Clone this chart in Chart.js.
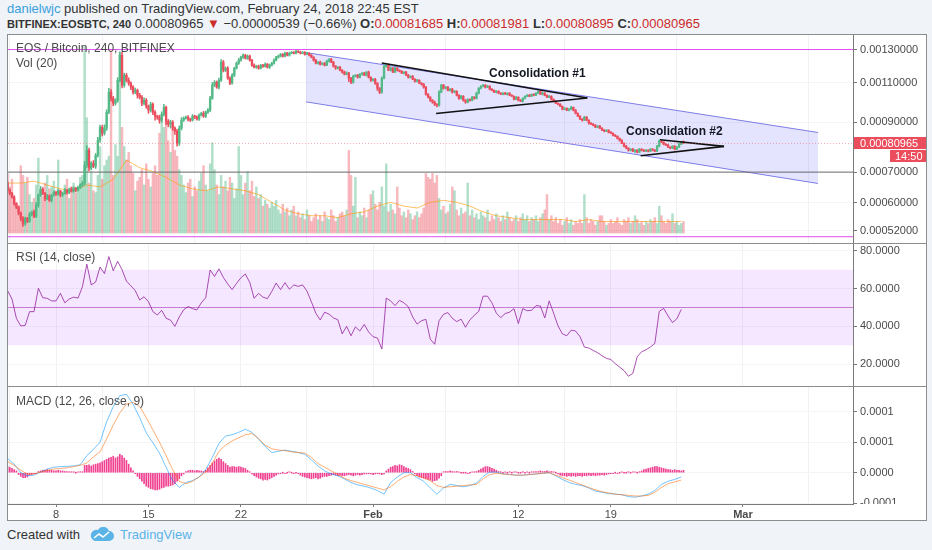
<!DOCTYPE html>
<html><head><meta charset="utf-8">
<script src="https://cdn.jsdelivr.net/npm/chart.js@4.4.0/dist/chart.umd.min.js"></script>
<style>
html,body{margin:0;padding:0;}
body{width:932px;height:550px;background:#f0f3f8;position:relative;overflow:hidden;font-family:"Liberation Sans",Arial,sans-serif;}
.abs{position:absolute;white-space:nowrap;}
#frame{position:absolute;left:7px;top:34px;width:920px;height:487px;box-sizing:border-box;border:1px solid #8c8c8c;background:#fff;}
canvas{position:absolute;}
.sep{position:absolute;left:8px;width:918px;height:1px;background:#8c8c8c;}
.ttl{position:absolute;left:16px;font-size:12px;color:#4a4a4a;white-space:nowrap;line-height:14px;z-index:5;}
.r{color:#cc2b2b;}
</style></head><body>
<div class="abs" style="left:7px;top:1px;font-size:13px;color:#333;line-height:16px"><span style="color:#3a9fdc">danielwjc</span> published on TradingView.com, February 24, 2018 22:45 EST</div>
<div class="abs" style="left:7px;top:16px;font-size:13px;color:#333;line-height:16px"><b style="font-size:11px">BITFINEX:EOSBTC, 240</b> 0.00080965 <span class="r">▼</span> −0.00000539 (−0.66%) <b>O:</b><span class="r">0.00081685</span> <b>H:</b><span class="r">0.00081981</span> <b>L:</b><span class="r">0.00080895</span> <b>C:</b><span class="r">0.00080965</span></div>
<div id="frame"></div>
<canvas id="cMain" width="918" height="208" style="left:8px;top:35px"></canvas>
<div class="sep" style="top:243px"></div>
<canvas id="cRsi" width="918" height="142" style="left:8px;top:244px"></canvas>
<div class="sep" style="top:386px"></div>
<canvas id="cMacd" width="918" height="117" style="left:8px;top:387px"></canvas>
<canvas id="cTime" width="918" height="16" style="left:8px;top:504px"></canvas>
<div class="ttl" style="top:41px">EOS / Bitcoin, 240, BITFINEX</div>
<div class="ttl" style="top:56px">Vol (20)</div>
<div class="ttl" style="top:250px">RSI (14, close)</div>
<div class="ttl" style="top:394px">MACD (12, 26, close, 9)</div>
<div class="abs" style="left:7px;top:527px;font-size:13px;color:#333;line-height:16px">Created with</div>
<svg class="abs" style="left:89px;top:527px" width="26" height="16" viewBox="0 0 26 16"><path d="M6 14 h14 a5 5 0 0 0 0-10 a6 6 0 0 0-11-1 a5 5 0 0 0-3 11z" fill="#5ab4e8"/><path d="M5 11 l5-4 l4 3 l6-5" stroke="#fff" stroke-width="1.6" fill="none"/></svg>
<div class="abs" style="left:120px;top:527px;font-size:13px;color:#5ab4e8;line-height:16px">TradingView</div>
<script>
// ---------- DATA ----------
// time axis (days since Jan 1 2018, 00:00)
const xMin = 3.366, xMax = 67.333;
const tickDays = [7, 14, 21, 31, 42, 49, 59];
const tickLabels = ['8', '15', '22', 'Feb', '12', '19', 'Mar'];
const firstCandleDay = 3.3333;
const candleStepDays = 1 / 6;   // 240-minute candles

// prices in 1e-6 BTC
const priceTicks = [520, 600, 700, 900, 1100, 1300];
const priceMin = 489.3, priceMax = 1399;
const firstOpen = 662;
const closes = [
639,629,617,598,586,569,554,540,554,546,
566,572,560,592,623,642,629,613,620,607,
623,632,626,636,623,629,639,632,642,636,
645,639,648,655,662,725,782,714,732,721,
762,822,878,852,874,947,1048,1016,991,1006,
1113,1263,1086,1142,1113,1097,1075,1048,1058,1032,
1022,991,1006,976,957,986,947,928,924,910,
937,971,905,892,901,874,861,810,874,910,
919,924,915,910,928,924,915,933,942,928,
947,957,1016,1086,1102,1075,1113,1220,1171,1183,
1125,1097,1142,1183,1213,1232,1251,1263,1244,1257,
1232,1201,1189,1195,1183,1201,1195,1207,1189,1201,
1213,1232,1251,1257,1269,1257,1276,1263,1276,1282,
1276,1288,1282,1276,1282,1269,1276,1263,1251,1232,
1213,1220,1207,1213,1201,1226,1238,1220,1195,1183,
1189,1171,1160,1148,1154,1125,1102,1136,1142,1130,
1148,1154,1142,1160,1130,1113,1119,1097,1069,1048,
1125,1195,1201,1171,1183,1160,1183,1171,1165,1154,
1160,1142,1130,1136,1119,1108,1113,1097,1091,1075,
1037,1022,1006,996,986,981,1048,1086,1069,1075,
1058,1064,1048,1053,1032,1016,1027,1006,996,1011,
1006,1022,1016,1043,1069,1080,1086,1075,1080,1064,
1058,1048,1053,1043,1037,1043,1037,1043,1032,1027,
1011,1022,1006,1001,1016,1027,1032,1027,1037,1032,
1043,1053,1037,1043,1032,1022,1027,1011,1001,991,
986,976,962,966,957,962,971,957,942,928,
915,910,924,910,896,892,887,878,883,874,
865,861,865,856,852,843,839,830,822,810,
798,790,782,786,778,782,774,786,782,778,
782,778,786,782,778,798,818,814,806,802,
794,790,798,786,794,806,815,809.65];
const wickUp = [
6,4,3,5,2,4,3,5,4,3, 5,3,6,8,4,9,5,3,6,4, 3,5,4,6,3,4,5,3,4,6, 5,3,4,5,6,14,18,8,6,10,
7,12,10,9,15,12,20,14,10,8, 15,22,18,12,10,14,8,9,12,7, 10,8,12,9,6,10,7,8,5,9, 12,15,6,8,9,7,6,8,10,12,
6,5,7,4,8,5,6,7,5,9, 6,8,10,14,9,7,12,15,10,8, 9,7,10,6,8,12,7,9,6,8, 7,5,8,6,7,5,6,8,5,7,
6,8,5,7,6,5,8,6,7,5, 4,6,5,7,4,5,6,4,5,3, 5,4,6,3,5,7,4,6,5,4, 3,5,4,6,8,5,4,6,3,5,
4,3,5,4,6,3,4,5,3,4, 8,6,5,4,6,3,5,4,3,4, 3,4,5,3,4,3,5,4,3,4, 5,4,3,4,6,3,8,5,4,3,
4,3,5,4,3,4,5,3,4,3, 3,4,3,5,4,3,4,3,5,3, 3,2,4,3,2,3,4,2,3,3, 2,3,2,4,3,2,3,4,2,3,
3,2,4,5,3,2,3,2,3,2, 2,3,2,3,2,3,5,2,3,2, 3,2,4,3,2,3,2,3,2,3, 2,3,2,2,3,2,3,2,2,3,
2,3,2,2,3,2,2,3,2,2, 2,2,3,2,2,3,6,3,2,2, 3,2,2,3,2,3,2,4.8];
const wickDn = [
4,5,3,6,4,5,7,8,5,4, 3,5,4,3,6,4,5,7,4,3, 5,3,4,3,5,4,3,6,4,3, 4,5,3,4,5,6,8,10,6,5,
8,6,9,12,8,10,7,15,12,9, 10,8,15,11,9,12,14,10,8,15, 9,12,8,10,15,9,12,18,10,14, 9,7,15,12,18,10,14,12,9,8,
6,5,8,6,4,7,5,6,4,5, 6,5,7,5,8,6,9,7,10,8, 7,9,6,8,5,7,6,8,5,7, 6,8,5,7,6,5,7,6,5,8,
5,6,4,7,5,6,4,5,6,4, 5,4,3,5,4,6,3,5,4,6, 4,5,6,4,5,3,6,4,5,7, 5,4,6,5,4,20,8,6,4,5,
4,6,3,5,4,6,5,7,12,8, 5,4,6,3,5,4,3,5,4,3, 4,3,5,4,3,5,4,3,5,6, 5,4,6,5,7,8,4,3,5,4,
3,4,5,3,4,6,3,4,5,3, 4,3,5,3,4,3,4,5,3,4, 3,2,4,3,2,3,2,4,3,2, 3,2,3,2,4,3,2,3,2,3,
2,3,2,4,3,2,3,4,3,2, 3,2,4,3,2,3,2,4,3,2, 3,5,2,3,4,2,3,2,3,2, 2,3,2,3,2,3,2,3,4,2,
3,2,4,3,2,5,3,2,3,2, 2,3,2,3,2,2,3,2,3,2, 2,3,2,3,2,2,2,0.7];
// volume, relative units (pane scale)
const volume = [
31,24,28,18,15,14,35,30,26,29, 20,16,18,25,39,22,19,26,30,23, 24,27,20,38,22,19,25,28,18,24, 26,21,23,29,30,97,60,26,32,22,
21,30,45,28,35,38,40,95,30,46, 40,94,55,45,38,42,35,31,22,27, 29,33,25,36,28,24,31,35,30,52, 60,55,58,48,42,54,43,40,33,30,
25,21,26,28,19,24,22,27,31,35, 25,22,36,47,33,25,20,30,24,27, 22,29,26,18,23,45,30,20,26,32, 22,27,19,24,18,20,14,17,15,13,
16,14,17,12,10,15,11,13,9,12, 14,9,11,8,10,7,12,9,6,8, 10,7,9,6,11,8,7,12,9,6, 8,10,11,9,12,43,30,14,29,8,
11,9,13,8,12,20,22,15,12,16, 24,14,36,11,15,12,10,24,13,9, 11,8,12,10,7,9,11,8,10,13, 31,29,28,31,26,30,18,12,14,10,
11,15,24,22,12,9,13,10,11,26, 9,12,8,10,7,11,9,8,12,6, 9,7,10,8,6,9,7,11,8,6, 7,9,6,8,10,7,9,6,8,7,
9,6,8,10,12,20,7,9,6,8, 5,7,4,6,8,5,7,4,6,5, 7,5,20,8,5,7,6,4,6,9, 9,6,4,5,7,5,6,8,5,4,
7,6,8,5,6,9,7,5,6,4, 6,5,7,6,8,5,14,9,6,5, 7,6,10,5,6,4,5,6];
const volMin = -5.2, volMax = 103.1;
// Vol MA(20), one value per 6 candles
const volMA = [26,26,27,25,23,22,25,24,28,38,34,32,29,25,23,22,24,23,22,20,16,12,10,9,9,8,10,11,14,16,14,13,16,17,16,14,11,9,8,7,7,7,7,6,7,6,6,6,6,6,6,6];

// drawings
const channelDays = [25.93, 64.68];
const channelUpper = [1280, 855];
const channelLower = [998, 661];
const tri1UpperDays = [31.66, 47.22], tri1UpperPrices = [1215, 1018];
const tri1LowerDays = [35.77, 47.22], tri1LowerPrices = [941, 1018];
const tri2UpperDays = [52.72, 57.57], tri2UpperPrices = [824, 797];
const tri2LowerDays = [51.26, 57.57], tri2LowerPrices = [760, 797];
const pinkLevels = [1300, 505];
const grayLevels = [700];
const labelTexts = ['Consolidation #1', 'Consolidation #2'];
const labelDays = [39.78, 50.15];
const labelPrices = [1152, 857.5];
const lastPriceText = '0.00080965';
const countdownText = '14:50';

// RSI(14), one value per 2 candles
const rsiTicks = [20, 40, 60, 80];
const rsiMin = 8.33, rsiMax = 83.71;
const rsiBand = [70, 30], rsiMid = 50;
const rsi = [
59,54.5,44.3,40.2,40.5,47.8,47.8,60.2,55.2,54.9,
53.5,53.5,57.5,52.5,54.5,55.5,55,61,73,62,
63.5,71.5,68,77,69.5,74.5,70,64,61.5,59,
54,55.7,53.1,47.8,46,48.5,44.3,43.3,40,45,
48.8,50.5,49.4,48.7,52.5,55.2,69.9,66.5,70.5,66,
62.5,59.5,62.8,65.8,67.8,63.3,54.9,57.5,55.5,54.7,
58.5,63,59.5,63.2,59.7,62,61.2,62,58.7,53,
47,43.4,47.5,46.5,44.5,43.5,36,40,35,39.7,
37.5,41,37,34.5,33.8,28,55,53.5,51,53.8,
52.5,50.4,45,41.2,43,43.7,33.2,30.5,43,46.4,
47.3,44.3,42.5,43.8,39.5,43.5,45.8,48,56,56,
52.5,47,44.6,46.8,47.5,49.4,41.5,49.4,48.3,48.5,
51,50.8,44.5,53.5,47,40.3,36,35,38,37.5,
34.5,29,28.5,27.2,26,24.4,23,22.4,20.2,18.4,
16.5,13.5,15,23.9,26.5,27.6,29,31,48,49.5,
45.5,42,44,49];

// MACD(12,26,9) in 1e-6, lines one value per 3 candles, histogram per candle
const macdTicks = [-50, 0, 50, 100];
const macdMin = -51.1, macdMax = 140;
const macdLine = [
23,14,0,-5,-4,1,6,9,10,10.5, 11,13,28,38,50,83,108,126,128,112,
90,65,49,32,9,-13,-24,-16,-13,-7, 5,25,48,60,62,66,71,66,55,43,
33,35,37,35,33,30,21,11,3,-2, -5,-10,-16,-20,-22,-25,-29,-35,-16,-7,
0,0,-8,-14,-25,-35,-25,-19,-21,-23, -21,-17,-6,1,1,-2,-3,-4,-4,-3,
-2,-1,0,-5,-11,-16,-19,-21,-25,-30, -32,-34,-35,-36,-39,-40,-38,-35,-29,-19,
-14,-11,-7];
const signalLine = [
18,12,4,-2,-2,1,4,6,7,8, 10,12,16,26,34,55,78,98,112,115,
108,90,70,50,28,5,-14,-18,-14,-7, 1,15,35,45,52,57,62,64,56,45,
39,37,36,34,33,32,25,15,9,3, -3,-9,-13,-16,-19,-22,-25,-28,-23,-14,
-7,-3,-5,-8,-13,-21,-24,-23,-22,-21, -20,-19,-10,-3,-1,-2,-3,-4,-4,-3,
-2,-1,0,-4,-8,-12,-16,-20,-24,-28, -31,-33,-35,-36,-37,-38,-38,-37,-32,-24,
-18,-15,-12];
const macdHist = [
10,9,7,5,3, -3,-6,-8,-8,-7, -4,-3,-1,-1,
2,3,4,4,5,4,4,3,3,4,3,3,2,2, 1,1,1,0,1,1,1,
12,12,13,11,13,14,15,16,18,20,22,24, 25,27,24,26,30,28,24,20,14, 8,3,-1,
-6,-10,-14,-18,-22,-24,-26,-27,-28,-28,-27,-25,-24,-22,-22,-21,-20,-18,-14,-10, -5,-2,
2,3,4,4,3,4,3,3,2,4, 8,12,16,19,22,24,22,18,15,12,9, 10,10,9,10,9,8,7, 4,1,-2,
-5,-7,-9,-10,-12,-11,-12,-10,-8,-6,-4,-2, -1,0,-1,0,1,0,-1,0,-1,
-4,-6,-7,-8,-9,-10,-9,-8,-10,-9,-7,-6,-6,-5,-4, -3,-4,-5,-4,-5,-5,-4,-3,-4,-5,-4,-3,-4,-3,-2,
-2,-1,-2,-3,-2,-1,-2,-3,-2, 3,6,9,10,12,11,13,12,10,8,7,5,2,
-2,-5,-7,-8,-9,-10,-11,-12,-14,-13,-12,-9,-5, 1,2,2,3,2,1,2,1,0,0,
0,-1,0,1,1,2, 4,6,8,10,10,9,7,6,4,2,1, 0,1,0,1,0,1,1,0,0,1,0,1,0,1, 1,2,2,3,2,2,3,1,2,1,0,
-2,-4,-5,-5,-6,-5,-6,-5,-6,-5,-5,-6,-5,-5,-4,-5,-4,-5,-4,-4,-3,-4,-3,
-2,-1,-1,0,-1,0,1,0,0,1,0,1,1,0,1, 3,5,6,7,8,9,10,10,9,8,7,6, 5,5,4,5,4,4,3,4];

// ---------- CHARTS ----------
Chart.defaults.font.family = '"Liberation Sans", Arial, sans-serif';
Chart.defaults.animation = false;
Chart.defaults.plugins.legend.display = false;
Chart.defaults.plugins.tooltip.enabled = false;

const AXIS_W = 73;
const UP = '#53b987', DOWN = '#eb4d5c';
const dayOf = i => firstCandleDay + i * candleStepDays;
const opens = closes.map((c, i) => i === 0 ? firstOpen : closes[i - 1]);
const isUp = closes.map((c, i) => c >= opens[i]);

function fixY(s) { s.width = AXIS_W; s.paddingTop = 0; s.paddingBottom = 0; }
function hiddenX() {
  return {
    type: 'linear', min: xMin, max: xMax, offset: false,
    afterBuildTicks: s => { s.ticks = tickDays.map(v => ({ value: v })); },
    ticks: { display: false },
    grid: { color: '#eff1f4', drawTicks: false },
    border: { display: false },
    afterFit: s => { s.height = 0; s.paddingLeft = 0; s.paddingRight = 0; }
  };
}
function rightY(min, max, ticks, fmt, type) {
  return {
    type: type || 'linear', position: 'right', min, max,
    afterBuildTicks: s => { s.ticks = ticks.map(v => ({ value: v })); },
    ticks: { callback: fmt, color: '#4a4a4a', font: { size: 11 }, padding: 3, autoSkip: false },
    grid: { color: '#f3f4f6', tickLength: 4, tickColor: '#777' },
    border: { display: true, color: '#7b7b7b' },
    afterFit: fixY
  };
}
const seg = (days, vals) => days.map((d, k) => ({ x: d, y: vals[k] }));
const hline = v => [{ x: xMin, y: v }, { x: xMax, y: v }];
const lineDs = (data, color, width, order, extra) => Object.assign({
  type: 'line', data, borderColor: color, borderWidth: width, pointRadius: 0, tension: 0, fill: false, order
}, extra || {});

const annoLabels = {
  id: 'annoLabels',
  afterDatasetsDraw(chart) {
    const { ctx, scales: { x, y } } = chart;
    ctx.save();
    ctx.font = 'bold 12px "Liberation Sans", Arial, sans-serif';
    ctx.fillStyle = '#131722';
    ctx.textBaseline = 'middle';
    labelTexts.forEach((t, k) => ctx.fillText(t, x.getPixelForValue(labelDays[k]), y.getPixelForValue(labelPrices[k])));
    ctx.restore();
  }
};
const priceTag = {
  id: 'priceTag',
  afterDraw(chart) {
    const { ctx, chartArea: a, scales: { y } } = chart;
    const last = closes[closes.length - 1];
    const py = Math.round(y.getPixelForValue(last));
    ctx.save();
    ctx.strokeStyle = 'rgba(235,77,92,0.45)';
    ctx.setLineDash([1, 2]);
    ctx.beginPath(); ctx.moveTo(a.left, py + 0.5); ctx.lineTo(a.right, py + 0.5); ctx.stroke();
    ctx.setLineDash([]);
    ctx.fillStyle = DOWN;
    ctx.fillRect(a.right + 1, py - 6, AXIS_W - 1, 12);
    ctx.fillRect(a.right + 37, py + 7, AXIS_W - 37, 12);
    ctx.fillStyle = '#fff';
    ctx.font = '11px "Liberation Sans", Arial, sans-serif';
    ctx.textBaseline = 'middle';
    ctx.fillText(lastPriceText, a.right + 7, py + 0.5);
    ctx.fillText(countdownText, a.right + 42, py + 13.5);
    ctx.restore();
  }
};

new Chart(document.getElementById('cMain'), {
  type: 'bar',
  data: {
    datasets: [
      lineDs(seg(channelDays, channelUpper), '#7d7de6', 1, 10, { fill: '+1', backgroundColor: 'rgba(120,120,255,0.2)' }),
      lineDs(seg(channelDays, channelLower), '#7d7de6', 1, 10),
      lineDs(hline(pinkLevels[0]), '#e04ef0', 1, 5),
      lineDs(hline(pinkLevels[1]), '#e04ef0', 1, 5),
      lineDs(hline(grayLevels[0]), '#6a6a6a', 1, 5),
      {
        type: 'bar', yAxisID: 'yv', order: 8, grouped: false, barThickness: 1.8,
        data: volume.map((v, i) => ({ x: dayOf(i), y: v })),
        backgroundColor: isUp.map(u => u ? 'rgba(83,185,135,0.45)' : 'rgba(235,77,92,0.4)')
      },
      lineDs(volMA.map((v, k) => ({ x: dayOf(k * 6), y: v })), 'rgba(255,152,0,0.6)', 1, 7, { yAxisID: 'yv' }),
      {
        type: 'bar', yAxisID: 'y', order: 3, grouped: false, barThickness: 0.9,
        data: closes.map((c, i) => ({ x: dayOf(i), y: [Math.min(opens[i], c) - wickDn[i], Math.max(opens[i], c) + wickUp[i]] })),
        backgroundColor: isUp.map(u => u ? UP : DOWN)
      },
      {
        type: 'bar', yAxisID: 'y', order: 2, grouped: false, barThickness: 1.7, minBarLength: 1,
        data: closes.map((c, i) => ({ x: dayOf(i), y: [opens[i], c] })),
        backgroundColor: isUp.map(u => u ? UP : DOWN)
      },
      lineDs(seg(tri1UpperDays, tri1UpperPrices), '#111', 1.6, 1),
      lineDs(seg(tri1LowerDays, tri1LowerPrices), '#111', 1.6, 1),
      lineDs(seg(tri2UpperDays, tri2UpperPrices), '#111', 1.6, 1),
      lineDs(seg(tri2LowerDays, tri2LowerPrices), '#111', 1.6, 1)
    ]
  },
  options: {
    responsive: false,
    layout: { padding: 0 },
    scales: {
      x: hiddenX(),
      y: rightY(priceMin, priceMax, priceTicks, v => (v / 1e6).toFixed(8), 'logarithmic'),
      yv: { type: 'linear', display: false, min: volMin, max: volMax }
    }
  },
  plugins: [annoLabels, priceTag]
});

new Chart(document.getElementById('cRsi'), {
  type: 'line',
  data: {
    datasets: [
      lineDs(hline(rsiBand[0]), 'rgba(0,0,0,0)', 0, 5, { fill: '+1', backgroundColor: 'rgba(153,21,255,0.1)' }),
      lineDs(hline(rsiBand[1]), 'rgba(0,0,0,0)', 0, 5),
      lineDs(hline(rsiMid), 'rgba(156,39,176,0.55)', 1, 4),
      lineDs(rsi.map((v, k) => ({ x: dayOf(k * 2), y: v })), 'rgba(142,21,153,0.75)', 1, 1)
    ]
  },
  options: {
    responsive: false,
    layout: { padding: 0 },
    scales: {
      x: hiddenX(),
      y: rightY(rsiMin, rsiMax, rsiTicks, v => v.toFixed(4))
    }
  }
});

new Chart(document.getElementById('cMacd'), {
  type: 'bar',
  data: {
    datasets: [
      {
        type: 'bar', order: 3, grouped: false, barThickness: 1, minBarLength: 1,
        data: macdHist.map((v, i) => ({ x: dayOf(i), y: v })),
        backgroundColor: '#ef4190'
      },
      lineDs(macdLine.map((v, k) => ({ x: dayOf(k * 3), y: v })), 'rgba(0,148,255,0.55)', 1, 2),
      lineDs(signalLine.map((v, k) => ({ x: dayOf(k * 3), y: v })), 'rgba(255,106,0,0.55)', 1, 1)
    ]
  },
  options: {
    responsive: false,
    layout: { padding: 0 },
    scales: {
      x: hiddenX(),
      y: rightY(macdMin, macdMax, macdTicks, v => (v / 1e6).toFixed(4))
    }
  }
});

new Chart(document.getElementById('cTime'), {
  type: 'line',
  data: { datasets: [] },
  options: {
    responsive: false,
    layout: { padding: { left: 0, top: 0, bottom: 0, right: AXIS_W } },
    scales: {
      x: {
        type: 'linear', min: xMin, max: xMax, offset: false, position: 'bottom',
        afterBuildTicks: s => { s.ticks = tickDays.map(v => ({ value: v })); },
        ticks: {
          autoSkip: false, maxRotation: 0, padding: 1, color: '#4a4a4a',
          callback: v => { const k = tickDays.indexOf(v); return k >= 0 ? tickLabels[k] : ''; },
          font: ctx => ({ size: 11, weight: (ctx.tick && isNaN(+ctx.tick.label)) ? 'bold' : 'normal' })
        },
        grid: { drawOnChartArea: false, tickLength: 3, tickColor: '#7b7b7b' },
        border: { display: true, color: '#7b7b7b' },
        afterFit: s => { s.height = 16; s.paddingLeft = 0; s.paddingRight = 0; }
      },
      y: { display: false }
    }
  }
});
</script>
</body></html>
